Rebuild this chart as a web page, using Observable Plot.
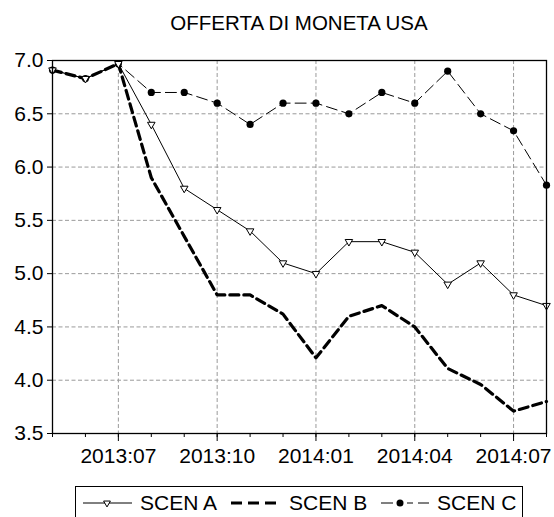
<!DOCTYPE html>
<html>
<head>
<meta charset="utf-8">
<script src="https://cdn.jsdelivr.net/npm/d3@7"></script>
<script src="https://cdn.jsdelivr.net/npm/@observablehq/plot@0.6"></script>
<style>
  html, body { margin: 0; padding: 0; background: white; }
  #wrap { position: relative; width: 554px; height: 517px; overflow: hidden; background: white;
          font-family: "Liberation Sans", Arial, sans-serif; }
  #title { position: absolute; left: 52px; width: 494px; top: 12px; text-align: center;
           font-size: 20.5px; line-height: 21px; color: black; }
  #chart { position: absolute; left: 0; top: 0; }
  #legend { position: absolute; left: 0; top: 470px; }
</style>
</head>
<body>
<div id="wrap">
  <div id="chart"></div>
  <div id="title">OFFERTA DI MONETA USA</div>
  <div id="legend"></div>
</div>
<script>
const titleText = "OFFERTA DI MONETA USA";
const months = ["2013:05","2013:06","2013:07","2013:08","2013:09","2013:10","2013:11","2013:12",
                "2014:01","2014:02","2014:03","2014:04","2014:05","2014:06","2014:07","2014:08"];
const xTickLabels = ["2013:07","2013:10","2014:01","2014:04","2014:07"];
const yTicks = [3.5, 4.0, 4.5, 5.0, 5.5, 6.0, 6.5, 7.0];
const seriesNames = ["SCEN A", "SCEN B", "SCEN C"];
const scenA = [6.91,6.83,6.97,6.40,5.80,5.60,5.40,5.10,5.00,5.30,5.30,5.20,4.90,5.10,4.80,4.70];
const scenB = [6.91,6.83,6.97,5.90,5.35,4.80,4.80,4.62,4.21,4.60,4.70,4.50,4.11,3.96,3.71,3.80];
const scenC = [6.91,6.83,6.97,6.70,6.70,6.60,6.40,6.60,6.60,6.50,6.70,6.60,6.90,6.50,6.34,5.83];

const toRows = (vals, name) => vals.map((v, i) => ({month: months[i], value: v, series: name}));
const dataA = toRows(scenA, seriesNames[0]);
const dataB = toRows(scenB, seriesNames[1]);
const dataC = toRows(scenC, seriesNames[2]);

const gridStyle = {stroke: "#9a9a9a", strokeOpacity: 1, strokeWidth: 1, strokeDasharray: "4,2.5"};

const chart = Plot.plot({
  width: 554,
  height: 480,
  marginTop: 60,
  marginBottom: 47,
  marginLeft: 52,
  marginRight: 8,
  style: {fontFamily: "'Liberation Sans', Arial, sans-serif", fontSize: "21px", background: "white", color: "black", overflow: "visible"},
  x: {type: "point", domain: months, padding: 0, round: false, label: null},
  y: {domain: [3.5, 7.0], label: null},
  marks: [
    Plot.gridY(yTicks, gridStyle),
    Plot.gridX(xTickLabels, gridStyle),
    Plot.line(dataA, {x: "month", y: "value", stroke: "black", strokeWidth: 1}),
    Plot.line(dataB, {x: "month", y: "value", stroke: "black", strokeWidth: 3.2, strokeDasharray: "9,5"}),
    Plot.line(dataC, {x: "month", y: "value", stroke: "black", strokeWidth: 1, strokeDasharray: "11,5"}),
    Plot.dot(dataC, {x: "month", y: "value", r: 3.6, fill: "black", stroke: "none", symbol: "circle"}),
    Plot.dot(dataA, {x: "month", y: "value", symbol: "triangle", rotate: 180, r: 2.8, fill: "white", stroke: "black", strokeWidth: 1}),
    Plot.frame({stroke: "black", strokeWidth: 1.3}),
    Plot.axisX(months, {tickSize: 4, tickFormat: () => "", stroke: "black", strokeWidth: 1, label: null}),
    Plot.axisX(xTickLabels, {tickSize: 8, tickPadding: 7, stroke: "black", strokeWidth: 1, fill: "black", label: null}),
    Plot.axisY(yTicks, {tickSize: 5, tickPadding: 4, tickFormat: d => d.toFixed(1), stroke: "black", fill: "black", label: null})
  ]
});
document.getElementById("chart").appendChild(chart);
document.getElementById("title").textContent = titleText;

// Legend
const lg = d3.select("#legend").append("svg")
  .attr("width", 554).attr("height", 47)
  .style("font-family", "'Liberation Sans', Arial, sans-serif").style("font-size", "21px");
lg.append("rect").attr("x", 75.5).attr("y", 16.5).attr("width", 447).attr("height", 40)
  .attr("fill", "white").attr("stroke", "black").attr("stroke-width", 1);
const ly = 33, tb = 40;
// A
lg.append("line").attr("x1", 83).attr("x2", 132).attr("y1", ly).attr("y2", ly).attr("stroke", "black");
lg.append("path").attr("d", d3.symbol(d3.symbolTriangle, 20)()).attr("transform", `translate(107,${ly}) rotate(180)`)
  .attr("fill", "white").attr("stroke", "black");
lg.append("text").attr("x", 140).attr("y", tb).text(seriesNames[0]);
// B
lg.append("line").attr("x1", 231).attr("x2", 280).attr("y1", ly).attr("y2", ly).attr("stroke", "black")
  .attr("stroke-width", 3.2).attr("stroke-dasharray", "11,6");
lg.append("text").attr("x", 289).attr("y", tb).text(seriesNames[1]);
// C
lg.append("line").attr("x1", 381).attr("x2", 429).attr("y1", ly).attr("y2", ly).attr("stroke", "black")
  .attr("stroke-dasharray", "12,5,4,5,6,5");
lg.append("circle").attr("cx", 400).attr("cy", ly).attr("r", 3.5).attr("fill", "black");
lg.append("text").attr("x", 437).attr("y", tb).text(seriesNames[2]);
</script>
</body>
</html>
